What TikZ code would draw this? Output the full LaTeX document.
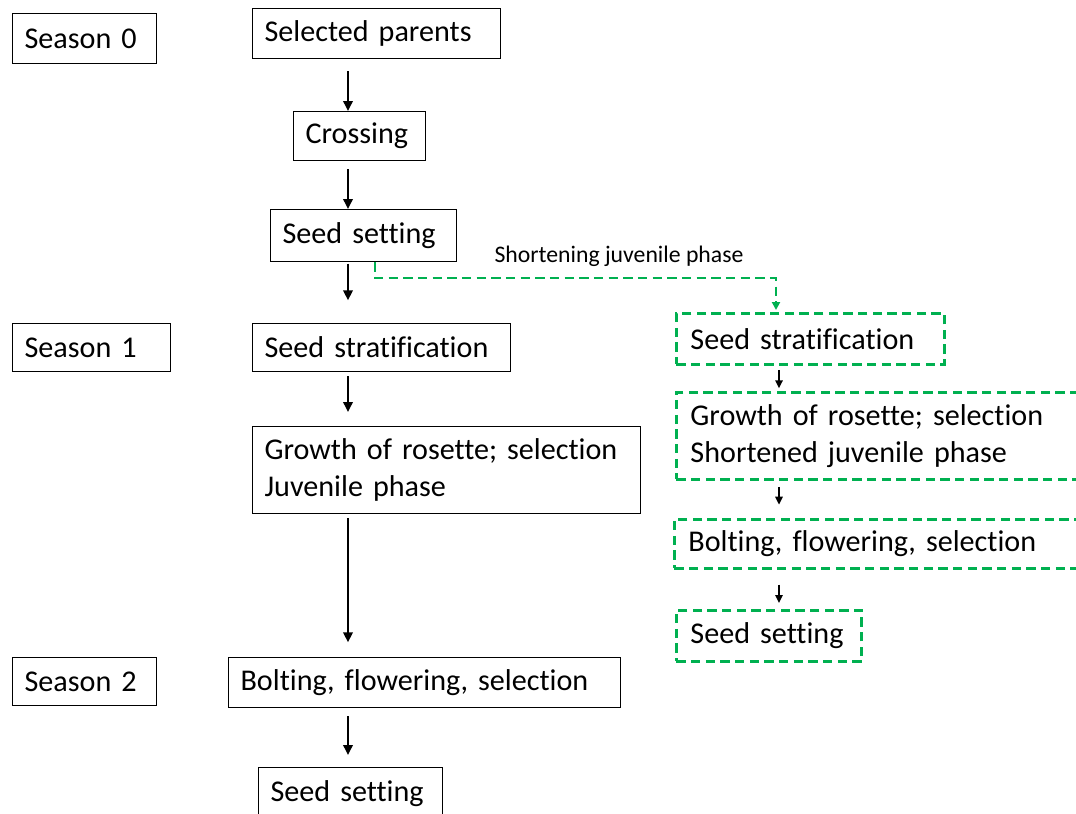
\documentclass[tikz,border=0pt]{standalone}
\usepackage{fontspec}
\setmainfont{Carlito}[Ligatures={NoCommon}]
\usetikzlibrary{arrows.meta}
\definecolor{ggreen}{HTML}{00B050}
\newcommand\fs{\fontsize{22.6}{27.5}\selectfont}
\newcommand\fss{\fontsize{17.8}{22}\selectfont}
\begin{document}
\begin{tikzpicture}[x=0.75pt,y=-0.75pt,
  box/.style={draw, line width=0.9pt, inner xsep=9pt, inner ysep=0pt, anchor=north west, align=left, font=\fs},
  gbox/.style={box, draw=ggreen, line width=2.2pt, dash pattern=on 7pt off 4pt, inner xsep=10.5pt},
  arr/.style={line width=1.8pt, -{Triangle[length=7.5pt,width=7pt]}},
  sarr/.style={line width=1.4pt, -{Triangle[length=6pt,width=5.5pt]}},
  garr/.style={draw=ggreen, line width=2.2pt, dash pattern=on 7pt off 4pt, -{Triangle[length=6pt,width=6pt,fill=ggreen]}}]
\clip (0,0) rectangle (1076,814);
\fill[white] (0,0) rectangle (1076,814);
% left column
\node[box, text width=90pt, minimum height=37.5pt] (s0) at (12,13) {Season 0};
\node[box, text width=168pt, minimum height=37.5pt] (sp) at (252,8) {Selected parents};
\node[box, text width=81pt, minimum height=36.75pt] (cr) at (293,111) {Crossing};
\node[box, text width=121.5pt, minimum height=39pt] (ss) at (270,209) {Seed setting};
\node[box, text width=100.5pt, minimum height=36pt] (s1) at (12,323) {Season 1};
\node[box, text width=175.5pt, minimum height=36pt] (st) at (252,323) {Seed stratification};
\node[box, text width=273pt, minimum height=65.25pt] (gr) at (252,426) {Growth of rosette; selection\\Juvenile phase};
\node[box, text width=90pt, minimum height=36pt] (s2) at (12,657) {Season 2};
\node[box, text width=276pt, minimum height=37.5pt] (bo) at (228,657) {Bolting, flowering, selection};
\node[box, text width=120pt, minimum height=39pt] (sb) at (258,767) {Seed setting};
% right column
\node[gbox, text width=180pt, minimum height=38.25pt] (rs) at (675,312) {Seed stratification};
\node[gbox, text width=301pt, minimum height=65.25pt] (rg) at (675,391) {Growth of rosette; selection\\Shortened juvenile phase};
\node[gbox, text width=301pt, minimum height=36.75pt] (rb) at (673,518) {Bolting, flowering, selection};
\node[gbox, text width=118pt, minimum height=38.25pt] (rss) at (675,609) {Seed setting};
% label
\node[font=\fss, inner sep=0pt] (lbl) at (619,256) {Shortening juvenile phase};
% arrow axes
\coordinate (ax) at (348,0);
\coordinate (bx) at (779,0);
\coordinate (g1) at (375,278);
\coordinate (g2) at (776,0);
% black arrows
\draw[arr, shorten <=9pt] (sp.south -| ax) -- (cr.north -| ax);
\draw[arr, shorten <=6pt] (cr.south -| ax) -- (ss.north -| ax);
\draw[arr, shorten <=1pt, shorten >=17pt] (ss.south -| ax) -- (st.north -| ax);
\draw[arr, shorten <=3pt, shorten >=10.5pt] (st.south -| ax) -- (gr.north -| ax);
\draw[arr, shorten <=3pt, shorten >=11pt] (gr.south -| ax) -- (bo.north -| ax);
\draw[arr, shorten <=6pt, shorten >=9pt] (bo.south -| ax) -- (sb.north -| ax);
\draw[sarr, shorten <=3pt, shorten >=2pt] (rs.south -| bx) -- (rg.north -| bx);
\draw[sarr, shorten <=4.5pt, shorten >=10pt] (rg.south -| bx) -- (rb.north -| bx);
\draw[sarr, shorten <=11pt, shorten >=4.5pt] (rb.south -| bx) -- (rss.north -| bx);
% green connector
\draw[garr, shorten >=1.5pt] (ss.south -| g1) -- (g1) -| (rs.north -| g2);
\end{tikzpicture}
\end{document}
